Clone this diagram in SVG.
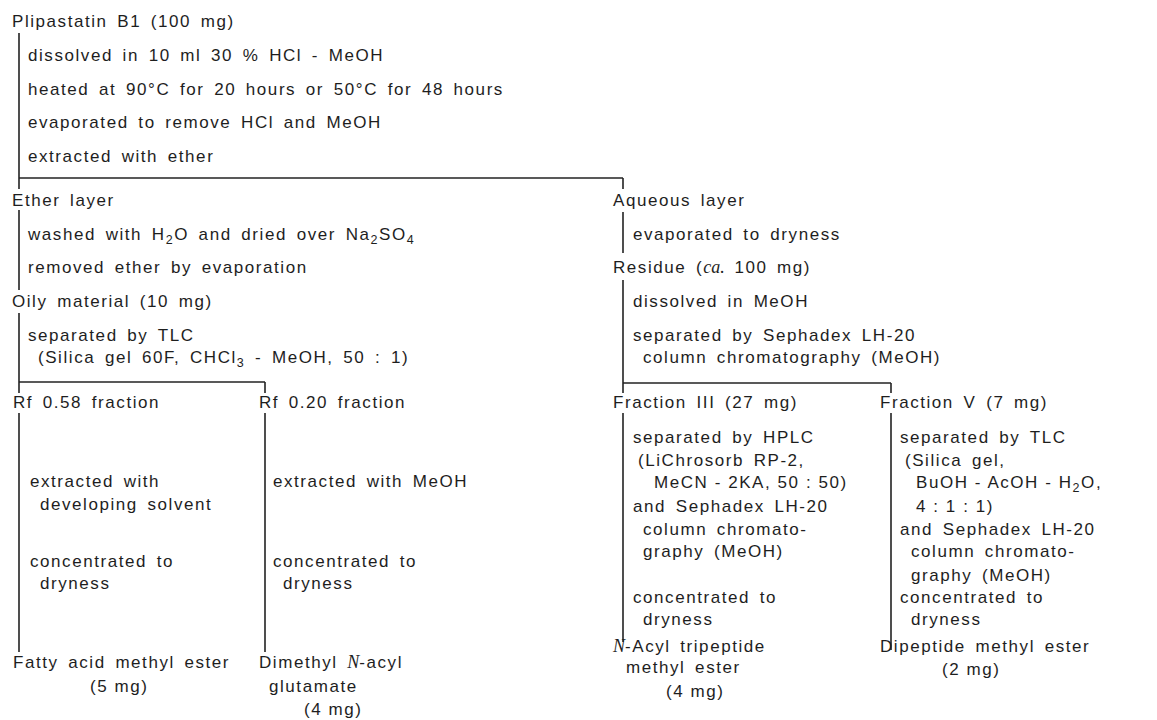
<svg xmlns="http://www.w3.org/2000/svg" width="1157" height="720" viewBox="0 0 1157 720">
<style>
text{font-family:"Liberation Sans",Arial,sans-serif;font-size:17px;letter-spacing:1.56px;word-spacing:3.4px;fill:#1e1e1e}
.i{font-family:"Liberation Serif",serif;font-style:italic;font-size:18px;letter-spacing:0}
.s{font-size:12.5px}
.n{word-spacing:0}
#connectors line{stroke:#222;stroke-width:1.6;fill:none}
</style>
<rect width="1157" height="720" fill="#fff"/>
<g id="connectors">
<line x1="19" y1="33" x2="19" y2="189"/>
<line x1="19" y1="178" x2="623" y2="178"/>
<line x1="623" y1="178" x2="623" y2="189"/>
<line x1="19" y1="210" x2="19" y2="290"/>
<line x1="19" y1="313" x2="19" y2="393"/>
<line x1="19" y1="382" x2="265" y2="382"/>
<line x1="265" y1="382" x2="265" y2="393"/>
<line x1="19" y1="413" x2="19" y2="652"/>
<line x1="265" y1="413" x2="265" y2="652"/>
<line x1="623" y1="212" x2="623" y2="253"/>
<line x1="623" y1="280" x2="623" y2="393"/>
<line x1="623" y1="383" x2="891" y2="383"/>
<line x1="891" y1="383" x2="891" y2="393"/>
<line x1="623" y1="413" x2="623" y2="642"/>
<line x1="891" y1="413" x2="891" y2="650"/>
</g>
<g id="start"><text x="12" y="27">Plipastatin B1 (100 mg)</text></g>
<g id="step1">
<text x="28" y="61">dissolved in 10 ml 30 % HCl - MeOH</text>
<text x="28" y="95">heated at 90°C for 20 hours or 50°C for 48 hours</text>
<text x="28" y="128">evaporated to remove HCl and MeOH</text>
<text x="28" y="162">extracted with ether</text>
</g>
<g id="ether"><text x="12" y="206">Ether layer</text></g>
<g id="step-ether">
<text x="28" y="240">washed with H<tspan class="s" dy="4">2</tspan><tspan dy="-4">O and dried over Na</tspan><tspan class="s" dy="4">2</tspan><tspan dy="-4">SO</tspan><tspan class="s" dy="4">4</tspan></text>
<text x="28" y="273">removed ether by evaporation</text>
</g>
<g id="oily"><text x="12" y="307">Oily material (10 mg)</text></g>
<g id="step-oily">
<text x="28" y="341">separated by TLC</text>
<text x="38" y="363">(Silica gel 60F, CHCl<tspan class="s" dy="4">3</tspan><tspan dy="-4"> - MeOH, 50 : 1)</tspan></text>
</g>
<g id="rf058"><text x="13" y="408">Rf 0.58 fraction</text></g>
<g id="step-rf058">
<text x="30" y="487">extracted with</text>
<text x="40" y="510">developing solvent</text>
<text x="30" y="567">concentrated to</text>
<text x="40" y="589">dryness</text>
</g>
<g id="fatty">
<text x="13" y="668">Fatty acid methyl ester</text>
<text x="90" y="692" class="n">(5 mg)</text>
</g>
<g id="rf020"><text x="259" y="408">Rf 0.20 fraction</text></g>
<g id="step-rf020">
<text x="273" y="487">extracted with MeOH</text>
<text x="273" y="567">concentrated to</text>
<text x="283" y="589">dryness</text>
</g>
<g id="glutamate">
<text x="259" y="668">Dimethyl <tspan class="i">N</tspan>-acyl</text>
<text x="269" y="692">glutamate</text>
<text x="304" y="715" class="n">(4 mg)</text>
</g>
<g id="aqueous"><text x="613" y="206">Aqueous layer</text></g>
<g id="step-aqueous"><text x="633" y="240">evaporated to dryness</text></g>
<g id="residue"><text x="613" y="273">Residue (<tspan class="i">ca.</tspan> 100 mg)</text></g>
<g id="step-residue">
<text x="633" y="307">dissolved in MeOH</text>
<text x="633" y="341">separated by Sephadex LH-20</text>
<text x="643" y="363">column chromatography (MeOH)</text>
</g>
<g id="fraction3"><text x="613" y="408">Fraction III (27 mg)</text></g>
<g id="step-fraction3">
<text x="633" y="443">separated by HPLC</text>
<text x="638" y="466">(LiChrosorb RP-2,</text>
<text x="654" y="488" class="n">MeCN - 2KA, 50 : 50)</text>
<text x="633" y="512">and Sephadex LH-20</text>
<text x="643" y="535">column chromato-</text>
<text x="643" y="557">graphy (MeOH)</text>
<text x="633" y="603">concentrated to</text>
<text x="643" y="625">dryness</text>
</g>
<g id="tripeptide">
<text x="613" y="652"><tspan class="i">N</tspan>-Acyl tripeptide</text>
<text x="626" y="673">methyl ester</text>
<text x="666" y="697" class="n">(4 mg)</text>
</g>
<g id="fraction5"><text x="880" y="408">Fraction V (7 mg)</text></g>
<g id="step-fraction5">
<text x="900" y="443">separated by TLC</text>
<text x="905" y="466">(Silica gel,</text>
<text x="916" y="488" class="n">BuOH - AcOH - H<tspan class="s" dy="4">2</tspan><tspan dy="-4">O,</tspan></text>
<text x="916" y="512" class="n">4 : 1 : 1)</text>
<text x="900" y="535">and Sephadex LH-20</text>
<text x="911" y="557">column chromato-</text>
<text x="911" y="581">graphy (MeOH)</text>
<text x="900" y="603">concentrated to</text>
<text x="911" y="625">dryness</text>
</g>
<g id="dipeptide">
<text x="880" y="652">Dipeptide methyl ester</text>
<text x="942" y="675" class="n">(2 mg)</text>
</g>
</svg>
